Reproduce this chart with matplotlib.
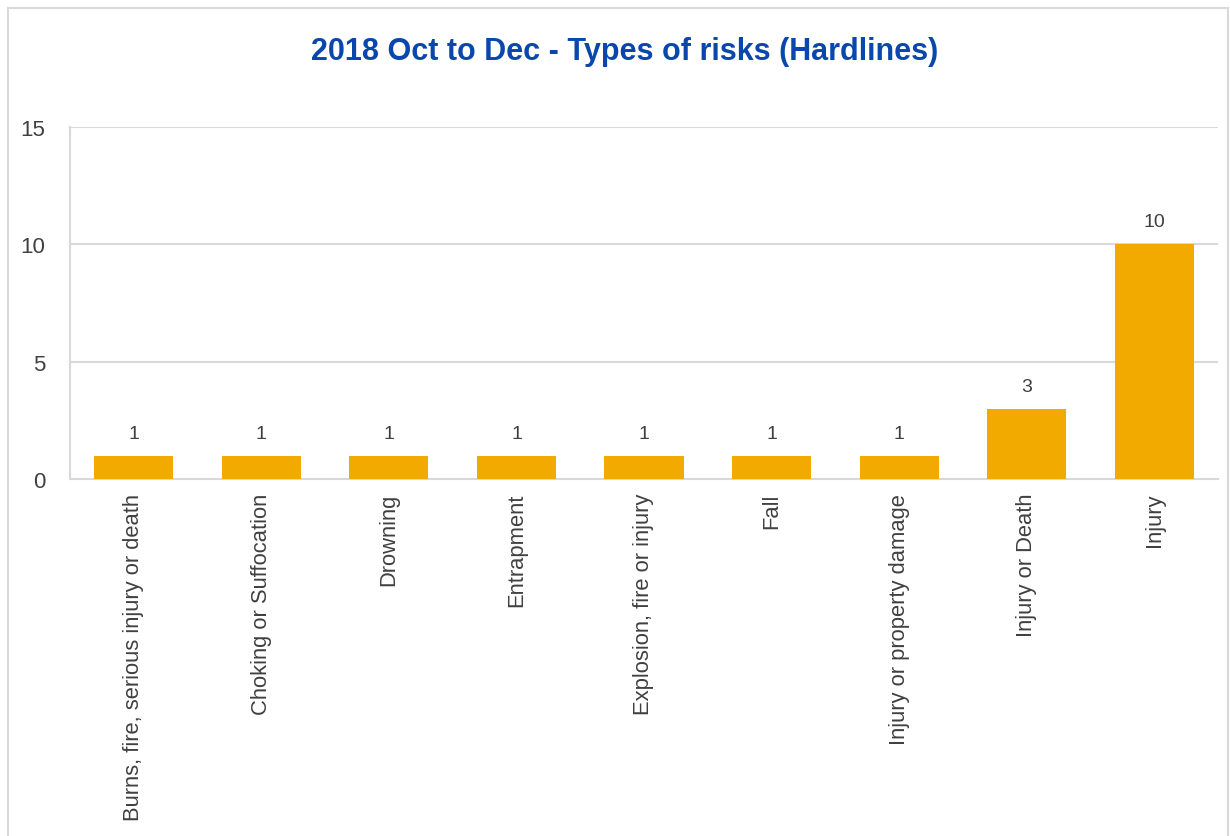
import matplotlib.pyplot as plt
from matplotlib.patches import Rectangle

categories = [
    "Burns, fire, serious injury or death",
    "Choking or Suffocation",
    "Drowning",
    "Entrapment",
    "Explosion, fire or injury",
    "Fall",
    "Injury or property damage",
    "Injury or Death",
    "Injury",
]
counts = [1, 1, 1, 1, 1, 1, 1, 3, 10]
yticks = [0, 5, 10, 15]

plt.rcParams["font.family"] = ["Liberation Sans Narrow", "Liberation Sans", "DejaVu Sans"]

fig = plt.figure(figsize=(12.3, 8.37), dpi=100)
fig.patches.append(Rectangle((8 / 1230, -0.05), 1220 / 1230, 1.05 - 9 / 837,
                             transform=fig.transFigure, fill=False,
                             edgecolor="#d9d9d9", linewidth=1.5))
ax = fig.add_axes([70 / 1230, 1 - 480 / 837, 1148 / 1230, 352 / 837])

x = range(len(categories))
bars = ax.bar(x, counts, width=0.62, color="#f2a900", zorder=3)
for xi, v in zip(x, counts):
    ax.annotate(str(v), (xi, v), xytext=(0, 10), textcoords="offset points",
                ha="center", va="bottom", fontsize=14, color="#404040")

ax.set_xlim(-0.5, len(categories) - 0.5)
ax.set_ylim(0, 15)
ax.set_yticks(yticks)
ax.set_yticklabels([str(t) for t in yticks], fontsize=16, color="#404040")
ax.set_xticks(list(x))
ax.set_xticklabels(categories, rotation=90, fontsize=15.8, color="#404040",
                   va="top", ha="center")
ax.tick_params(length=0, axis="y", pad=18)
ax.tick_params(length=0, axis="x", pad=10)
ax.grid(axis="y", color="#d9d9d9", linewidth=1.5, zorder=0)
for s in ["top", "right"]:
    ax.spines[s].set_visible(False)
ax.spines["left"].set_color("#d9d9d9")
ax.spines["left"].set_linewidth(1.5)
ax.spines["bottom"].set_color("#d9d9d9")
ax.spines["bottom"].set_linewidth(1.5)

fig.text(625 / 1230, 1 - 52 / 837, "2018 Oct to Dec - Types of risks (Hardlines)",
         ha="center", va="center", fontsize=22, fontweight="bold", color="#0a47ad")

fig.savefig("out.png", dpi=100)
